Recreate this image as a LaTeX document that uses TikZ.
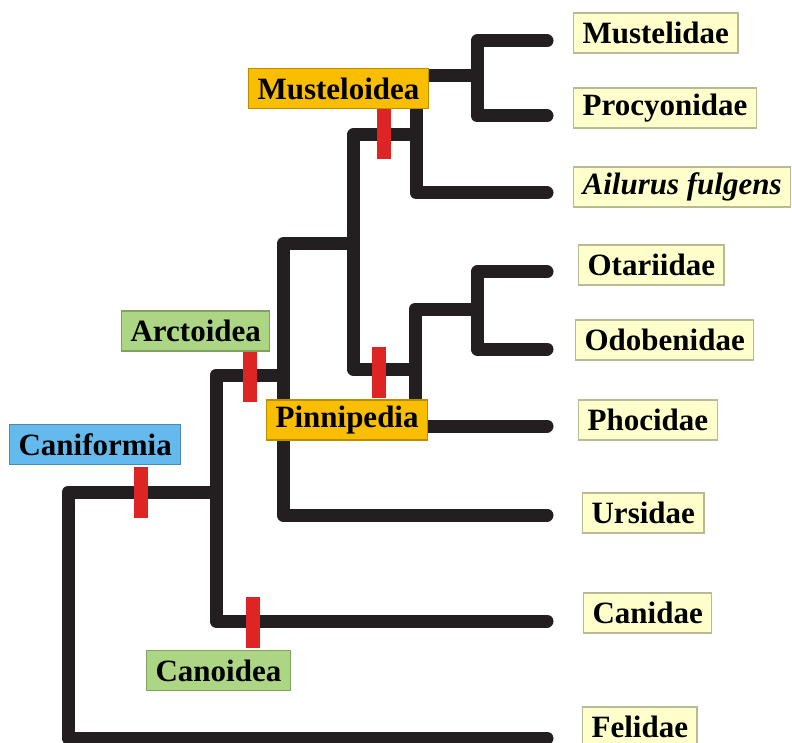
\documentclass[tikz,border=0pt]{standalone}
\usepackage{fontspec}
\setmainfont{Liberation Serif}
\usetikzlibrary{positioning}

\definecolor{branchblack}{RGB}{35,31,32}
\definecolor{synred}{RGB}{222,36,36}
\definecolor{leafyellow}{RGB}{255,255,204}
\definecolor{leafedge}{RGB}{185,185,150}
\definecolor{caniblue}{RGB}{100,186,236}
\definecolor{arctgreen}{RGB}{172,214,132}
\definecolor{pinngold}{RGB}{250,190,0}

\begin{document}
\begin{tikzpicture}[x=0.5pt,y=-0.5pt,
  branch/.style={line width=6.5pt, branchblack, line cap=round, line join=round},
  synapo/.style={fill=synred, minimum width=7pt, minimum height=25.5pt, inner sep=0pt},
  taxon/.style={draw=leafedge, fill=leafyellow, line width=0.6pt, anchor=west,
    minimum height=20pt, inner xsep=4.5pt, inner ysep=0pt,
    font=\fontsize{15.5}{18}\selectfont\bfseries},
  clade/.style={taxon, draw=#1!75!black, fill=#1}]
  % Page frame
  \useasboundingbox (0,0) rectangle (792,743);

  % Tips of the branches
  \coordinate (tMus) at (547,41);
  \coordinate (tPro) at (547,116);
  \coordinate (tAil) at (547,193);
  \coordinate (tOta) at (547,272);
  \coordinate (tOdo) at (547,349);
  \coordinate (tPho) at (547,426);
  \coordinate (tUrs) at (547,515);
  \coordinate (tCan) at (547,621);
  \coordinate (tFel) at (547,738);

  % Inner nodes of the tree
  \coordinate (nMP) at (477,76);
  \coordinate (nMus) at (416,135);
  \coordinate (nOO) at (477,309);
  \coordinate (nPin) at (415,369);
  \coordinate (nMuPi) at (353,244);
  \coordinate (nArc) at (283,375);
  \coordinate (nCan) at (216,492);
  \coordinate (nRoot) at (68,492);

  % Branches
  \draw[branch] (tMus) -| (nMP) |- (tPro);
  \draw[branch] (nMP) -| (nMus) |- (tAil);
  \draw[branch] (tOta) -| (nOO) |- (tOdo);
  \draw[branch] (nOO) -| (nPin) |- (tPho);
  \draw[branch] (nMus) -| (nMuPi) |- (nPin);
  \draw[branch] (nMuPi) -| (nArc) |- (tUrs);
  \draw[branch] (nArc) -| (nCan) |- (tCan);
  \draw[branch] (nCan) -| (nRoot) |- (tFel);

  % Red marks on the branches
  \node[synapo] (rCanif) at (141,492) {};
  \node[synapo] (rArc) at (250,376) {};
  \node[synapo] (rPin) at (379,372) {};
  \node[synapo] (rMus) at (384,134) {};
  \node[synapo] (rCano) at (253,622) {};

  % Clade labels
  \node[clade=caniblue] (lCanif) at (9,444.5) {Caniformia};
  \node[clade=arctgreen] (lArc) at (121,331) {Arctoidea};
  \node[clade=pinngold] (lPin) at (266,420) {Pinnipedia};
  \node[clade=pinngold] (lMus) at (248,88.5) {Musteloidea};
  \node[clade=arctgreen] (lCano) at (146,670.5) {Canoidea};

  % Taxon labels
  \node[taxon] (xMus) at (573,33) {Mustelidae};
  \node[taxon] (xPro) at (573,108) {Procyonidae};
  \node[taxon] (xAil) at (573,187) {\itshape Ailurus fulgens};
  \node[taxon] (xOta) at (578,265) {Otariidae};
  \node[taxon] (xOdo) at (575,340) {Odobenidae};
  \node[taxon] (xPho) at (578,420) {Phocidae};
  \node[taxon] (xUrs) at (582,513) {Ursidae};
  \node[taxon] (xCan) at (583,613) {Canidae};
  \node[taxon] (xFel) at (582,727) {Felidae};
\end{tikzpicture}
\end{document}
